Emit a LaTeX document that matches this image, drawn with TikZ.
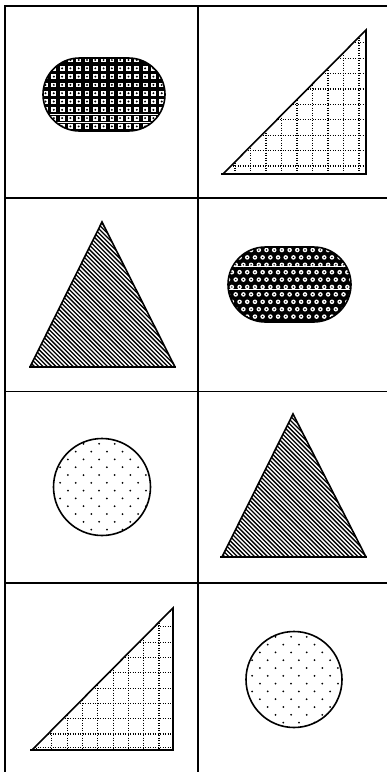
\documentclass[tikz,border=0pt]{standalone}
\begin{document}
\begin{tikzpicture}[x=1pt,y=-1pt,
  frame/.style={line width=1.8pt,black},
  outline/.style={line width=1.6pt,black},
  hatchline/.style={line width=1.3pt,black},
  dotline/.style={line width=1.1pt,black,dash pattern=on 1pt off 1.5pt},
  dotmark/.style={fill=black}]
\useasboundingbox (0,0) rectangle (387,772);
\fill[white] (0,0) rectangle (387,772);

% ---------- frame ----------
\draw[frame] (5,780) -- (5,6) -- (395,6);
\draw[frame] (198,6) -- (198,780);
\draw[frame] (5,198) -- (395,198);
\draw[frame] (5,391.5) -- (395,391.5);
\draw[frame] (5,583) -- (395,583);

% ---------- cell 1: stadium, dark with white squares ----------
\begin{scope}
  \clip[rounded corners=36.5pt] (43,58) rectangle (165,131);
  \fill[black] (40,55) rectangle (170,135);
  \foreach \i in {0,...,15} {
    \foreach \j in {0,...,9} {
      \fill[white] ({45.5+8.3*\i-2.4},{60+8.3*\j-2.4}) rectangle ++(4.8,4.8);
      \fill[black] ({45.5+8.3*\i},{60+8.3*\j}) circle[radius=1.1pt];
    }
  }
  \foreach \j in {6,...,9} {
    \draw[white,line width=0.6pt] (40,{64.15+8.3*\j}) -- (170,{64.15+8.3*\j});
  }
\end{scope}
\draw[outline,rounded corners=36.5pt] (43,58) rectangle (165,131);

% ---------- cell 2: right triangle, dotted grid ----------
\begin{scope}
  \clip (223,174) -- (366,174) -- (366,30) -- cycle;
  \foreach \k in {0,...,8} {
    \draw[dotline] ({359-15.5*\k},20) -- ({359-15.5*\k},180);
    \draw[dotline] (215,{166-15.4*\k}) -- (370,{166-15.4*\k});
  }
\end{scope}
\draw[outline] (366,174) -- (366,30) -- (223,174);
\draw[line width=2pt] (221,174) -- (367,174);

% ---------- cell 3: hatched triangle ----------
\begin{scope}
  \clip (102,222) -- (175,367) -- (30,367) -- cycle;
  \foreach \k in {0,...,60} {
    \draw[hatchline] ({-130+4.3*\k},215) -- ({30+4.3*\k},375);
  }
\end{scope}
\draw[outline] (30,367) -- (102,222) -- (175,367);
\draw[line width=2pt] (29,367) -- (176,367);

% ---------- cell 4: stadium, dark with white dots ----------
\begin{scope}
  \clip[rounded corners=37.5pt] (228,247) rectangle (351,322);
  \fill[black] (225,244) rectangle (355,326);
  \foreach \j in {0,...,10} {
    \pgfmathsetmacro{\off}{mod(\j,2)*3.85}
    \foreach \i in {0,...,17} {
      \fill[white] ({228+\off+7.7*\i},{250+7.4*\j}) circle[radius=2.3pt];
      \fill[black] ({228+\off+7.7*\i},{250+7.4*\j}) circle[radius=0.8pt];
    }
  }
  \draw[white,line width=0.7pt] (225,266) -- (355,266);
  \draw[white,line width=0.7pt] (225,289) -- (355,289);
\end{scope}
\draw[outline,rounded corners=37.5pt] (228,247) rectangle (351,322);

% ---------- cell 5: dotted circle ----------
\begin{scope}
  \clip (102,487) circle[radius=48.5pt];
  \foreach \j in {0,...,13} {
    \pgfmathsetmacro{\off}{mod(\j,2)*7.8}
    \foreach \i in {0,...,7} {
      \fill[dotmark] ({44.5+\off+15.6*\i},{436+7.8*\j}) circle[radius=1pt];
    }
  }
\end{scope}
\draw[outline] (102,487) circle[radius=48.5pt];

% ---------- cell 6: hatched triangle ----------
\begin{scope}
  \clip (293,414) -- (366,557) -- (222,557) -- cycle;
  \foreach \k in {0,...,60} {
    \draw[hatchline] ({60+4.3*\k},405) -- ({220+4.3*\k},565);
  }
\end{scope}
\draw[outline] (222,557) -- (293,414) -- (366,557);
\draw[line width=2pt] (220,557) -- (367,557);

% ---------- cell 7: right triangle, dotted grid ----------
\begin{scope}
  \clip (32,750) -- (173,750) -- (173,608) -- cycle;
  \foreach \k in {0,...,8} {
    \draw[dotline] ({159-15.3*\k},600) -- ({159-15.3*\k},755);
    \draw[dotline] (25,{734-15.3*\k}) -- (180,{734-15.3*\k});
  }
  \draw[dotline] (25,747.5) -- (180,747.5);
\end{scope}
\draw[outline] (173,750) -- (173,608) -- (32,750);
\draw[line width=2pt] (30,750) -- (174,750);

% ---------- cell 8: dotted circle ----------
\begin{scope}
  \clip (294,679.5) circle[radius=48pt];
  \foreach \j in {0,...,13} {
    \pgfmathsetmacro{\off}{mod(\j,2)*7.8}
    \foreach \i in {0,...,7} {
      \fill[dotmark] ({236.5+\off+15.6*\i},{629+7.8*\j}) circle[radius=1pt];
    }
  }
\end{scope}
\draw[outline] (294,679.5) circle[radius=48pt];
\end{tikzpicture}
\end{document}
